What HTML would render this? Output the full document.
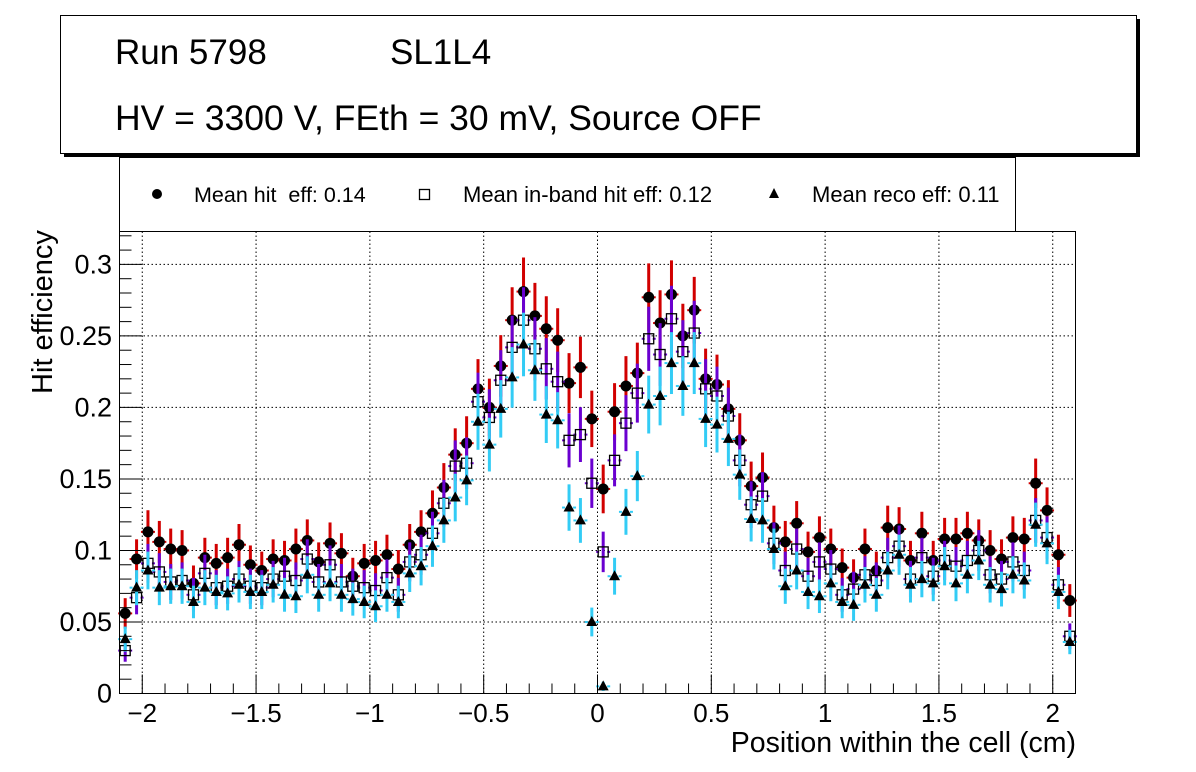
<!DOCTYPE html>
<html><head><meta charset="utf-8"><style>
body{margin:0;background:#fff;}
svg{display:block;font-family:"Liberation Sans",sans-serif;}
</style></head><body>
<svg id="chart" width="1196" height="772" viewBox="0 0 1196 772">
<rect x="0" y="0" width="1196" height="772" fill="#fff"/>
<g>
<rect x="64" y="19" width="1076" height="138" fill="#000"/>
<rect x="60.5" y="15.5" width="1076" height="138" fill="#fff" stroke="#000" stroke-width="1"/>
<text x="115" y="64" font-size="35">Run 5798</text>
<text x="390" y="64" font-size="35">SL1L4</text>
<text x="115" y="130" font-size="35.5">HV = 3300 V, FEth = 30 mV, Source OFF</text>
</g>
<g>
<rect x="119.5" y="157.5" width="896" height="74" fill="#fff" stroke="#000" stroke-width="1"/>
<circle cx="157" cy="194" r="5" fill="#000"/>
<text x="194" y="202" font-size="21.5">Mean hit&#160; eff: 0.14</text>
<rect x="419.5" y="189.5" width="10" height="10" fill="none" stroke="#000" stroke-width="1.3"/>
<text x="463" y="202" font-size="22">Mean in-band hit eff: 0.12</text>
<polygon points="774,188 779,198 769,198" fill="#000"/>
<text x="812" y="202" font-size="22">Mean reco eff: 0.11</text>
</g>
<g id="grid"></g>
<g id="marks"></g>
<rect x="119.5" y="231.5" width="956" height="462" fill="none" stroke="#000" stroke-width="1"/>
<g id="axes"></g>
<text x="52" y="312" font-size="29" text-anchor="middle" transform="rotate(-90 52 312)">Hit efficiency</text>
<text x="1076" y="752" font-size="28.5" text-anchor="end">Position within the cell (cm)</text>
</svg>
<script>
const hitEff=[0.056,0.094,0.113,0.106,0.101,0.100,0.077,0.095,0.091,0.095,0.104,0.090,0.086,0.094,0.093,0.101,0.107,0.092,0.105,0.098,0.082,0.091,0.093,0.097,0.087,0.104,0.113,0.126,0.144,0.167,0.175,0.213,0.200,0.229,0.261,0.281,0.264,0.255,0.247,0.217,0.228,0.192,0.143,0.197,0.215,0.224,0.277,0.259,0.279,0.250,0.268,0.220,0.216,0.199,0.177,0.145,0.151,0.116,0.106,0.119,0.099,0.109,0.101,0.088,0.081,0.101,0.086,0.116,0.115,0.093,0.112,0.093,0.108,0.108,0.112,0.107,0.100,0.094,0.109,0.108,0.147,0.128,0.097,0.065];
const inbandEff=[0.030,0.067,0.091,0.085,0.078,0.079,0.069,0.084,0.074,0.075,0.080,0.075,0.074,0.080,0.082,0.079,0.094,0.078,0.090,0.078,0.075,0.074,0.072,0.081,0.069,0.092,0.097,0.112,0.133,0.159,0.161,0.204,0.193,0.219,0.242,0.261,0.241,0.227,0.218,0.177,0.181,0.147,0.099,0.163,0.189,0.210,0.248,0.237,0.262,0.239,0.252,0.213,0.208,0.194,0.163,0.132,0.138,0.105,0.086,0.101,0.082,0.092,0.087,0.069,0.073,0.083,0.079,0.095,0.103,0.080,0.095,0.082,0.093,0.089,0.093,0.100,0.083,0.080,0.092,0.086,0.121,0.109,0.076,0.040];
const recoEff=[0.038,0.074,0.086,0.074,0.075,0.075,0.064,0.074,0.071,0.070,0.076,0.071,0.071,0.076,0.069,0.068,0.083,0.069,0.077,0.069,0.066,0.064,0.061,0.069,0.064,0.084,0.089,0.103,0.121,0.137,0.149,0.190,0.174,0.199,0.221,0.244,0.226,0.195,0.191,0.130,0.121,0.050,0.005,0.082,0.127,0.152,0.202,0.208,0.231,0.215,0.231,0.192,0.188,0.178,0.153,0.122,0.121,0.101,0.075,0.086,0.071,0.068,0.077,0.064,0.062,0.076,0.069,0.086,0.097,0.076,0.080,0.077,0.089,0.077,0.083,0.093,0.076,0.073,0.083,0.079,0.118,0.105,0.071,0.036];
const xMin=-2.1, xMax=2.1, binWidth=0.05;
const yTickLabels=["0","0.05","0.1","0.15","0.2","0.25","0.3"];
const xTickLabels=["\u22122","\u22121.5","\u22121","\u22120.5","0","0.5","1","1.5","2"];
const NS='http://www.w3.org/2000/svg';
const X0=119.5,X1=1075.5,Y0=693.5,YT=231.5,yMax=0.323;
function sx(v){return X0+(v-xMin)/(xMax-xMin)*(X1-X0);}
function sy(v){return Y0-v/yMax*(Y0-YT);}
function mk(tag,attrs,parent){const e=document.createElementNS(NS,tag);for(const k in attrs)e.setAttribute(k,attrs[k]);parent.appendChild(e);return e;}
const grid=document.getElementById('grid'),axes=document.getElementById('axes'),marks=document.getElementById('marks');
for(let i=0;i<yTickLabels.length;i++){const v=parseFloat(yTickLabels[i]);const y=sy(v);
 if(v>0){const g=mk('line',{x1:X0,x2:X1,y1:y,y2:y,stroke:'#000','stroke-width':1,'stroke-dasharray':'1.5,2.5'},grid);
 
 }
 const t=mk('line',{x1:X0,x2:X0+23,y1:y,y2:y,stroke:'#000','stroke-width':1},axes);
 
 
 const tx=mk('text',{x:112,y:y+9,'font-size':27,'text-anchor':'end'},axes);tx.textContent=yTickLabels[i];
 
 }
for(let k=1;k<=32;k++){if(k%5===0)continue;const y=sy(k*0.01);
 const t=mk('line',{x1:X0,x2:X0+12,y1:y,y2:y,stroke:'#000','stroke-width':1},axes);
 
 }
for(let i=0;i<xTickLabels.length;i++){const v=-2+0.5*i;const x=sx(v);
 const g=mk('line',{x1:x,x2:x,y1:YT,y2:Y0,stroke:'#000','stroke-width':1,'stroke-dasharray':'1.5,2.5'},grid);
 
 
 const t=mk('line',{x1:x,x2:x,y1:Y0,y2:Y0-19,stroke:'#000','stroke-width':1},axes);
 
 
 const tx=mk('text',{x:x,y:722,'font-size':26,'text-anchor':'middle'},axes);tx.textContent=xTickLabels[i];
 
 }
for(let k=-21;k<=21;k++){if(k%5===0)continue;const x=sx(k*0.1);
 const t=mk('line',{x1:x,x2:x,y1:Y0,y2:Y0-10,stroke:'#000','stroke-width':1},axes);
 
 }
function draw(vals,color,shape,name){
 const g=mk('g',{},marks);
 
 
 vals.forEach((v,i)=>{const xv=xMin+binWidth*(i+0.5);const x=sx(xv),y=sy(v);const e=0.045*Math.sqrt(v);
  const b=mk('line',{x1:x,x2:x,y1:sy(Math.max(0,v-e)),y2:sy(v+e),stroke:color,'stroke-width':3},g);
  
  
  mk('line',{x1:x-7,x2:x-4,y1:y,y2:y,stroke:color,'stroke-width':2},g);
  mk('line',{x1:x+4,x2:x+7,y1:y,y2:y,stroke:color,'stroke-width':2},g);});
 vals.forEach((v,i)=>{const xv=xMin+binWidth*(i+0.5);const x=sx(xv),y=sy(v);let m;
  if(shape==='c')m=mk('circle',{cx:x,cy:y,r:5.5,fill:'#000'},g);
  else if(shape==='s')m=mk('rect',{x:x-5,y:y-5,width:10,height:10,fill:'none',stroke:'#000','stroke-width':1.3},g);
  else m=mk('polygon',{points:`${x},${y-6} ${x+5.5},${y+4} ${x-5.5},${y+4}`,fill:'#000'},g);
  
  });}
draw(hitEff,'#d10000','c','hit-eff');
draw(inbandEff,'#6a00d0','s','inband-eff');
draw(recoEff,'#33ccf5','t','reco-eff');
</script>
</body></html>
